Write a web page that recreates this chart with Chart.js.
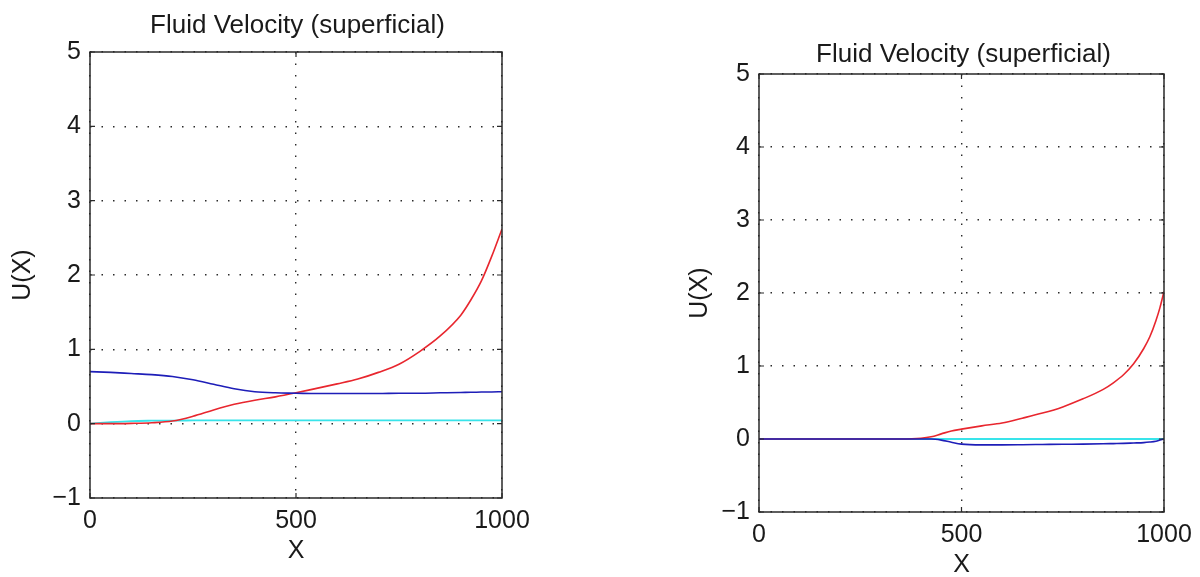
<!DOCTYPE html>
<html>
<head>
<meta charset="utf-8">
<script src="https://cdn.jsdelivr.net/npm/chart.js@4.4.1/dist/chart.umd.min.js"></script>
<style>
  html, body { margin: 0; padding: 0; background: #ffffff; overflow: hidden; width: 1200px; height: 577px; }
  .panel { position: absolute; top: 0; }
</style>
</head>
<body>
<div class="panel" style="left:0px;width:600px;height:577px;"><canvas id="left" width="600" height="577"></canvas></div>
<div class="panel" style="left:600px;width:600px;height:580px;"><canvas id="right" width="600" height="580"></canvas></div>
<script>
// ---- Data ----
const chartTitle = 'Fluid Velocity (superficial)';
const xLabel = 'X';
const yLabel = 'U(X)';
const xTicks = [0, 500, 1000];
const yTicks = [-1, 0, 1, 2, 3, 4, 5];

// Left panel
const xLeft    = [0, 50, 100, 150, 200, 250, 300, 350, 400, 450, 500, 550, 600, 650, 700, 750, 800, 850, 900, 925, 950, 975, 1000];
const redLeft  = [0, 0, 0.004, 0.012, 0.035, 0.10, 0.185, 0.26, 0.315, 0.36, 0.415, 0.475, 0.535, 0.60, 0.69, 0.80, 0.97, 1.18, 1.46, 1.67, 1.92, 2.25, 2.62];
const blueLeft = [0.70, 0.69, 0.675, 0.66, 0.635, 0.59, 0.53, 0.47, 0.43, 0.415, 0.41, 0.405, 0.405, 0.405, 0.405, 0.41, 0.41, 0.415, 0.42, 0.422, 0.425, 0.427, 0.43];
const cyanLeft = [0, 0.02, 0.035, 0.04, 0.042, 0.043, 0.044, 0.044, 0.044, 0.044, 0.044, 0.044, 0.044, 0.044, 0.044, 0.044, 0.044, 0.044, 0.044, 0.044, 0.044, 0.044, 0.044];

// Right panel
const xRight    = [0, 100, 200, 300, 350, 400, 425, 450, 475, 500, 550, 600, 650, 700, 750, 800, 850, 875, 900, 925, 950, 965, 980, 990, 1000];
const redRight  = [0, 0, 0, 0, 0, 0.01, 0.03, 0.07, 0.11, 0.135, 0.18, 0.22, 0.285, 0.355, 0.44, 0.55, 0.68, 0.77, 0.88, 1.03, 1.24, 1.40, 1.62, 1.80, 2.02];
const blueRight = [0, 0, 0, 0, 0, 0, 0, -0.015, -0.045, -0.07, -0.08, -0.08, -0.078, -0.075, -0.072, -0.07, -0.066, -0.063, -0.06, -0.055, -0.05, -0.042, -0.03, -0.015, 0];
const cyanRight = [0, 0, 0, 0, 0, 0, 0, 0, 0, 0, 0, 0, 0, 0, 0, 0, 0, 0, 0, 0, 0, 0, 0, 0, 0];

// ---- Styling ----
const FONT = "'Liberation Sans', Arial, Helvetica, sans-serif";
const TEXT = '#1a1a1a';
const RED = '#e8262e';
const BLUE = '#1e1eb8';
const CYAN = '#38e4ea';

function pts(xs, ys) { return xs.map((x, i) => ({ x: x, y: ys[i] })); }

const framePlugin = {
  id: 'frameTitle',
  afterDraw(chart, args, opts) {
    const { ctx, chartArea: a, scales } = chart;
    ctx.save();
    // frame
    ctx.strokeStyle = '#2a2a2a';
    ctx.lineWidth = 1.5;
    ctx.strokeRect(a.left, a.top, a.right - a.left, a.bottom - a.top);
    // inward tick marks
    const tl = 5;
    ctx.lineWidth = 1.2;
    ctx.beginPath();
    scales.x.ticks.forEach(t => {
      const px = scales.x.getPixelForValue(t.value);
      ctx.moveTo(px, a.bottom); ctx.lineTo(px, a.bottom - tl);
      ctx.moveTo(px, a.top); ctx.lineTo(px, a.top + tl);
    });
    scales.y.ticks.forEach(t => {
      const py = scales.y.getPixelForValue(t.value);
      ctx.moveTo(a.left, py); ctx.lineTo(a.left + tl, py);
      ctx.moveTo(a.right, py); ctx.lineTo(a.right - tl, py);
    });
    ctx.stroke();
    // title
    ctx.fillStyle = TEXT;
    ctx.font = '26px ' + FONT;
    ctx.textAlign = 'center';
    ctx.textBaseline = 'alphabetic';
    ctx.fillText(opts.text, (a.left + a.right) / 2 + (opts.dx || 0), a.top - opts.gap);
    ctx.restore();
  }
};

function makeChart(id, xs, red, blue, cyan, cfg) {
  const tickFont = { family: FONT, size: 25 };
  return new Chart(document.getElementById(id), {
    type: 'line',
    data: {
      datasets: [
        { label: 'blue', data: pts(xs, blue), borderColor: BLUE, borderWidth: 1.6 },
        { label: 'red',  data: pts(xs, red),  borderColor: RED,  borderWidth: 1.6 },
        { label: 'cyan', data: pts(xs, cyan), borderColor: CYAN, borderWidth: 1.8 }
      ]
    },
    options: {
      responsive: false,
      animation: false,
      elements: { point: { radius: 0 }, line: { cubicInterpolationMode: 'monotone', fill: false } },
      layout: { padding: cfg.padding },
      plugins: {
        legend: { display: false },
        tooltip: { enabled: false },
        frameTitle: { text: chartTitle, gap: cfg.titleGap, dx: cfg.titleDx }
      },
      scales: {
        x: {
          type: 'linear',
          min: xTicks[0], max: xTicks[xTicks.length - 1],
          afterBuildTicks: s => { s.ticks = xTicks.map(v => ({ value: v })); },
          ticks: { font: tickFont, color: TEXT, padding: 8, maxRotation: 0, callback: v => String(v) },
          grid: { color: '#2a2a2a', lineWidth: 1.4, drawTicks: false },
          border: { display: false, dash: [1.5, 10] },
          title: { display: true, text: xLabel, font: tickFont, color: TEXT, padding: { top: 0, bottom: 0 } },
          afterFit: s => { s.height = 68; }
        },
        y: {
          type: 'linear',
          min: yTicks[0], max: yTicks[yTicks.length - 1],
          afterBuildTicks: s => { s.ticks = yTicks.map(v => ({ value: v })); },
          ticks: { font: tickFont, color: TEXT, padding: 9, callback: v => String(v).replace('-', '\u2212') },
          grid: { color: '#2a2a2a', lineWidth: 1.4, drawTicks: false },
          border: { display: false, dash: [1.5, 10] },
          title: { display: true, text: yLabel, font: tickFont, color: TEXT, padding: { top: cfg.yTitlePad, bottom: 0 } },
          afterFit: s => { s.width = cfg.yWidth; }
        }
      }
    },
    plugins: [framePlugin]
  });
}

makeChart('left', xLeft, redLeft, blueLeft, cyanLeft, {
  padding: { left: 0, right: 98, top: 52, bottom: 11 },
  yWidth: 90, yTitlePad: 8, titleGap: 19, titleDx: 1.5
});
makeChart('right', xRight, redRight, blueRight, cyanRight, {
  padding: { left: 0, right: 36, top: 74, bottom: 0 },
  yWidth: 159, yTitlePad: 85, titleGap: 12, titleDx: 2
});
</script>
</body>
</html>
